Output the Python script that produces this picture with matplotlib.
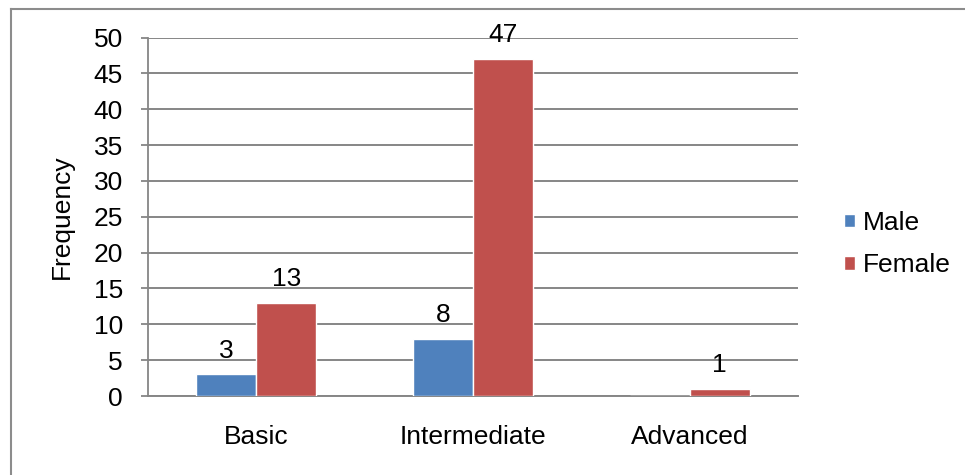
import matplotlib
matplotlib.use("Agg")
import matplotlib.pyplot as plt
import numpy as np
from matplotlib.lines import Line2D
from matplotlib.patches import Patch

categories = ["Basic", "Intermediate", "Advanced"]
male = [3, 8, 0]
female = [13, 47, 1]
series_names = ["Male", "Female"]
yticks = [0, 5, 10, 15, 20, 25, 30, 35, 40, 45, 50]

plt.rcParams['font.family'] = ['Liberation Sans', 'DejaVu Sans']

W, H = 965, 475
FS = 19
fig = plt.figure(figsize=(W/100, H/100), dpi=100)
ax = fig.add_axes([148/W, 1-396/H, (798-148)/W, (396-37.5)/H])

blue = "#4F81BD"
red = "#C0504D"
grid = "#868686"

x = np.arange(len(categories))
bw = 0.277
bm = ax.bar(x - bw/2, male, bw, color=blue, edgecolor="white", linewidth=1, zorder=3)
bf = ax.bar(x + bw/2, female, bw, color=red, edgecolor="white", linewidth=1, zorder=3)

for rects, vals in ((bm, male), (bf, female)):
    for r, v in zip(rects, vals):
        if v == 0:
            continue
        ax.text(r.get_x() + r.get_width()/2, v + 2.35, str(v), ha="center", va="baseline",
                fontsize=FS, color="black", zorder=4)

ax.set_xlim(-0.5, len(categories) - 0.5)
ax.set_ylim(0, 50)
ax.set_yticks(yticks)
ax.set_yticklabels([str(t) for t in yticks], fontsize=FS)
ax.set_xticks(x)
ax.set_xticklabels(categories, fontsize=FS)
ax.tick_params(axis='x', length=0, pad=21)
ax.tick_params(axis='y', length=5, width=1.3, color=grid, pad=13)
ax.yaxis.grid(True, color=grid, linewidth=1.4, zorder=0)
ax.set_axisbelow(True)
for s in ["top", "right"]:
    ax.spines[s].set_visible(False)
ax.spines["left"].set_color(grid)
ax.spines["left"].set_linewidth(1.3)
ax.spines["bottom"].set_color(grid)
ax.spines["bottom"].set_linewidth(1.4)
ax.set_ylabel("Frequency", fontsize=FS)
ax.yaxis.set_label_coords((74-148)/650, 0.5)

handles = [Patch(facecolor=blue, edgecolor="white"), Patch(facecolor=red, edgecolor="white")]
leg = fig.legend(handles, series_names, loc="center left", bbox_to_anchor=(820/W, 1-244/H),
                 frameon=False, fontsize=FS, handlelength=0.42, handleheight=0.42,
                 handletextpad=0.3, labelspacing=0.7)

# outer border
fig.add_artist(Line2D([10.5/W, 10.5/W], [0, 1-8.5/H], transform=fig.transFigure, color="#8c8c8c", linewidth=1.5))
fig.add_artist(Line2D([10.5/W, 1], [1-8.5/H, 1-8.5/H], transform=fig.transFigure, color="#8c8c8c", linewidth=1.5))

fig.savefig("out.png", dpi=100)
